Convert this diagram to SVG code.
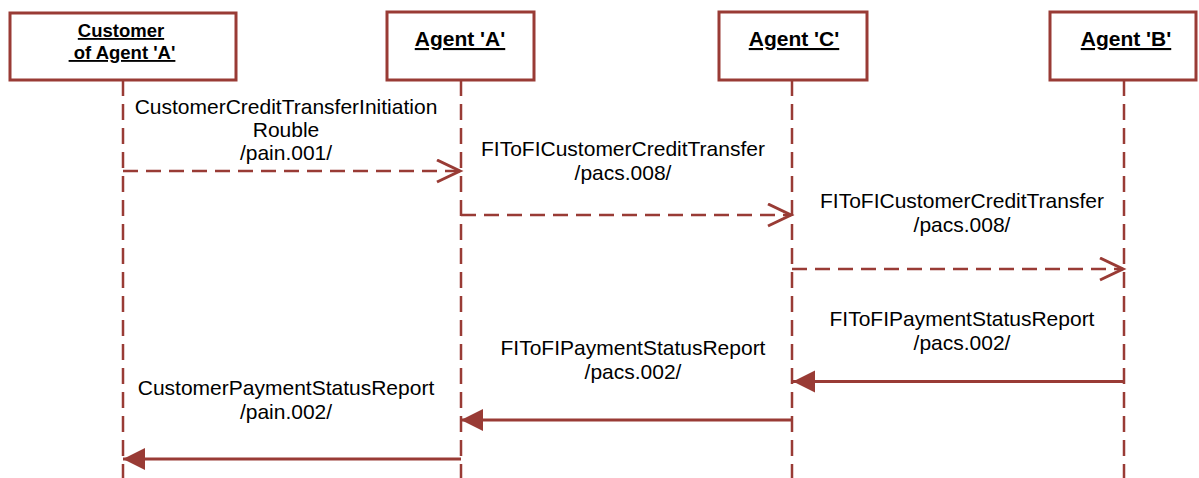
<svg xmlns="http://www.w3.org/2000/svg" width="1199" height="478" viewBox="0 0 1199 478">
<style>
.box{fill:#fff;stroke:#993B35;stroke-width:3}
.life{stroke:#993B35;stroke-width:2.5;stroke-dasharray:16 8;fill:none}
.hdr{font-family:"Liberation Sans",Arial,sans-serif;font-weight:bold;font-size:21px;fill:#000;text-anchor:middle;text-decoration:underline}
.hdr2{font-family:"Liberation Sans",Arial,sans-serif;font-weight:bold;font-size:18.5px;fill:#000;text-anchor:middle;text-decoration:underline}
.msg{font-family:"Liberation Sans",Arial,sans-serif;font-size:21px;fill:#000;text-anchor:middle}
.async{stroke:#993B35;stroke-width:2.5;stroke-dasharray:15 8;fill:none}
.sync{stroke:#993B35;stroke-width:3;fill:none}
</style>
<defs>
<marker id="open" markerUnits="userSpaceOnUse" markerWidth="30" markerHeight="30" refX="24" refY="12" orient="auto">
<path d="M1,1 L24,12 L1,23" fill="none" stroke="#993B35" stroke-width="3"/>
</marker>
<marker id="filled" markerUnits="userSpaceOnUse" markerWidth="30" markerHeight="30" refX="22" refY="12" orient="auto">
<path d="M0,1 L22,12 L0,23 Z" fill="#993B35"/>
</marker>
</defs>
<g id="customer">
<line class="life" x1="123" y1="80" x2="123" y2="478"/>
<rect class="box" x="10" y="13" width="226" height="67"/>
<text class="hdr2" x="121" y="37">Customer</text>
<text class="hdr2" x="122" y="59" xml:space="preserve"> of Agent 'A'</text>
</g>
<g id="agentA">
<line class="life" x1="461" y1="80" x2="461" y2="478"/>
<rect class="box" x="387" y="12" width="147" height="68"/>
<text class="hdr" x="460" y="46">Agent 'A'</text>
</g>
<g id="agentC">
<line class="life" x1="792" y1="80" x2="792" y2="478"/>
<rect class="box" x="719" y="12" width="148" height="68"/>
<text class="hdr" x="794" y="46">Agent 'C'</text>
</g>
<g id="agentB">
<line class="life" x1="1124" y1="80" x2="1124" y2="478"/>
<rect class="box" x="1050" y="12" width="146" height="68"/>
<text class="hdr" x="1126" y="46">Agent 'B'</text>
</g>
<g id="connectors">
<line class="async" x1="123" y1="171" x2="460" y2="171" marker-end="url(#open)"/>
<line class="async" x1="461" y1="215" x2="791" y2="215" marker-end="url(#open)"/>
<line class="async" x1="792" y1="269" x2="1123" y2="269" marker-end="url(#open)"/>
<line class="sync" x1="1124" y1="381.5" x2="793" y2="381.5" marker-end="url(#filled)"/>
<line class="sync" x1="792" y1="420" x2="461" y2="420" marker-end="url(#filled)"/>
<line class="sync" x1="461" y1="459" x2="123" y2="459" marker-end="url(#filled)"/>
<text class="msg" x="286" y="113.5">CustomerCreditTransferInitiation</text>
<text class="msg" x="286" y="136.5">Rouble</text>
<text class="msg" x="286" y="159.5">/pain.001/</text>
<text class="msg" x="623" y="155.5">FIToFICustomerCreditTransfer</text>
<text class="msg" x="623" y="179.5">/pacs.008/</text>
<text class="msg" x="962" y="207.5">FIToFICustomerCreditTransfer</text>
<text class="msg" x="962" y="231.5">/pacs.008/</text>
<text class="msg" x="962" y="325.5">FIToFIPaymentStatusReport</text>
<text class="msg" x="962" y="349.5">/pacs.002/</text>
<text class="msg" x="633" y="354.5">FIToFIPaymentStatusReport</text>
<text class="msg" x="633" y="378.5">/pacs.002/</text>
<text class="msg" x="286" y="394.5">CustomerPaymentStatusReport</text>
<text class="msg" x="286" y="418.5">/pain.002/</text>
</g>
</svg>
